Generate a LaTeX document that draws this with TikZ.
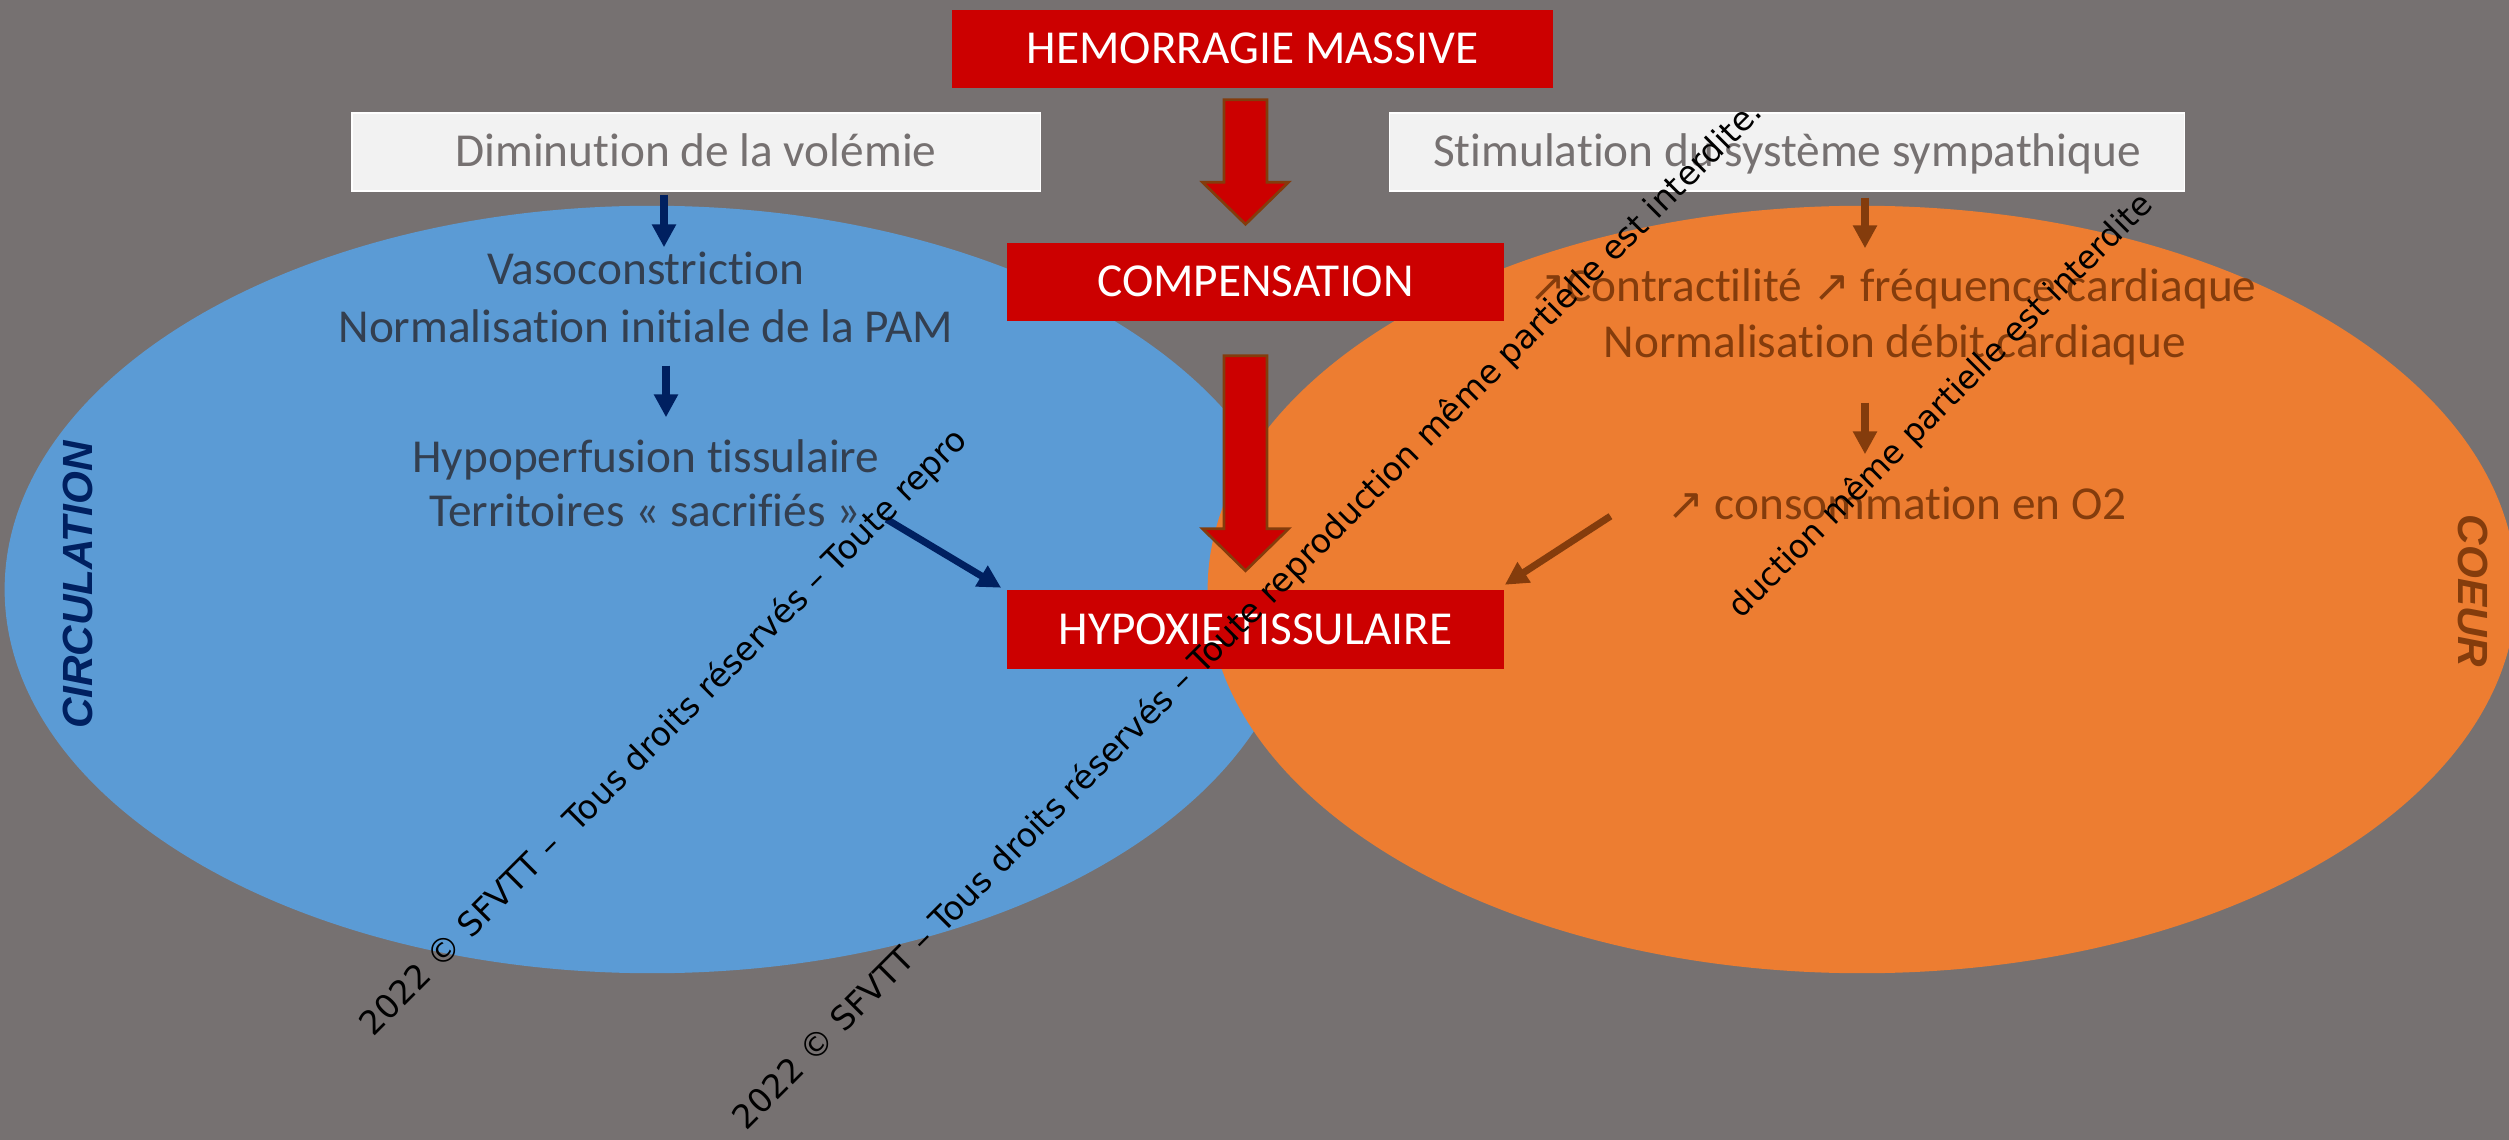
\documentclass[tikz,border=0pt]{standalone}
\usepackage{fontspec}
\setmainfont{Carlito}[Ligatures=NoCommon]
\newfontfamily\wmfont{DejaVu Sans}
\newfontfamily\symfont{DejaVu Sans}
\newfontfamily\lblfont{Liberation Sans}
\usetikzlibrary{calc,arrows.meta}
\definecolor{bgc}{HTML}{767171}
\definecolor{bluee}{HTML}{5B9BD5}
\definecolor{orangee}{HTML}{ED7D31}
\definecolor{hred}{HTML}{CC0000}
\definecolor{brownc}{HTML}{843C0C}
\definecolor{navyc}{HTML}{002060}
\definecolor{slatec}{HTML}{333F50}
\definecolor{lightc}{HTML}{F2F2F2}
\definecolor{grayt}{HTML}{767171}
\newcommand{\mainsize}{\fontsize{13.45pt}{16pt}\selectfont}
\newcommand{\uarr}{{\symfont\fontsize{12.5pt}{14pt}\selectfont ↗}}
\newcommand{\blockarrow}[2]{%
  \draw[redarrst] ($(#1)+(-21.5,0)$) -- ($(#1)+(21.5,0)$) -- ($(#2)+(21.5,-42)$) -- ($(#2)+(43,-42)$) -- (#2) -- ($(#2)+(-43,-42)$) -- ($(#2)+(-21.5,-42)$) -- cycle;}
\begin{document}
\begin{tikzpicture}[x=0.01cm, y=-0.01cm,
  redboxst/.style={fill=hred, text=white, minimum width=4.97cm, minimum height=0.78cm, inner sep=0pt, text height=0.297cm, text depth=0pt, font=\mainsize},
  lboxst/.style={fill=lightc, draw=white, line width=0.4pt, text=grayt, minimum height=0.78cm, inner sep=0pt, text height=0.297cm, text depth=0pt, font=\mainsize},
  bluetxt/.style={anchor=base, text=slatec, font=\mainsize, inner sep=0pt, text height=0.33cm, text depth=0.094cm},
  browntxt/.style={anchor=base, text=brownc, font=\mainsize, inner sep=0pt, text height=0.33cm, text depth=0.094cm},
  redarrst/.style={fill=hred, draw=brownc, line width=0.027cm, line join=miter},
  navyarr/.style={draw=navyc, line width=0.08cm, -{Triangle[length=0.23cm, width=0.23cm]}},
  brownarr/.style={draw=brownc, line width=0.08cm, -{Triangle[length=0.23cm, width=0.23cm]}},
  wm/.style={anchor=base west, rotate=45, inner sep=0pt, text=black, font=\wmfont\fontsize{9.4pt}{11pt}\selectfont},
  sidelbl/.style={anchor=base, inner sep=0pt, font=\lblfont\bfseries\itshape\fontsize{12pt}{14pt}\selectfont}
]
\useasboundingbox (0,0) rectangle (2509,1140);
\clip (0,0) rectangle (2509,1140);
\fill[bgc] (0,0) rectangle (2509,1140);
% ellipses
\fill[bluee] (652,589.5) ellipse [x radius=6.47cm, y radius=3.835cm];
\fill[orangee] (1862,589.5) ellipse [x radius=6.54cm, y radius=3.835cm];
% boxes
\node[redboxst, minimum width=6.01cm] (hemo) at (1252.5,49) {HEMORRAGIE MASSIVE};
\node[redboxst] (comp) at (1255.5,282) {COMPENSATION};
\node[redboxst] (hypo) at (1255.5,629.5) {HYPOXIE TISSULAIRE};
\node[lboxst, minimum width=6.88cm] (dim) at (696,152) {Diminution de la volémie};
\node[lboxst, minimum width=7.94cm] (stim) at (1787,152) {Stimulation du système sympathique};
% blue side texts
\node[bluetxt] (vaso) at (646,285) {Vasoconstriction};
\node[bluetxt] (norm1) at (646,343) {Normalisation initiale de la PAM};
\node[bluetxt] (hypop) at (646,472) {Hypoperfusion tissulaire};
\node[bluetxt] (terr) at (645,527) {Territoires « sacrifiés »};
% brown side texts
\node[browntxt] (contr) at (1893,302) {\uarr Contractilité \uarr{} fréquence cardiaque};
\node[browntxt] (normdeb) at (1895,358) {Normalisation débit cardiaque};
\node[browntxt] (conso) at (1897,520) {\uarr{} consommation en O2};
% side labels
\node[sidelbl, rotate=90, text=navyc] (circ) at (92,585) {CIRCULATION};
\node[sidelbl, rotate=-90, text=brownc] (coeur) at (2458,591) {COEUR};
% red block arrows
\coordinate (r1t) at ($(hemo.south)+(-7,11)$);
\coordinate (r1p) at ($(comp.north)+(-10,-18)$);
\coordinate (r2t) at ($(comp.south)+(-10,34)$);
\coordinate (r2p) at ($(hypo.north)+(-10,-19)$);
\blockarrow{r1t}{r1p}
\blockarrow{r2t}{r2p}
% navy arrows
\draw[navyarr] ($(dim.south)+(-32,3)$) -- ($(vaso.north)+(18,-4)$);
\draw[navyarr] ($(norm1.south)+(20,12.6)$) -- ($(hypop.north)+(20,-21)$);
\draw[navyarr, line width=0.07cm] ($(terr.east)+(25,4)$) -- ($(hypo.north west)+(-5,-2)$);
% brown arrows
\draw[brownarr] ($(stim.south)+(78,6)$) -- ($(contr.north)+(-28,-20)$);
\draw[brownarr] ($(normdeb.south)+(-30,34.6)$) -- ($(conso.north)+(-32,-32)$);
\draw[brownarr, line width=0.07cm] ($(conso.west)+(-56,8)$) -- ($(hypo.north east)+(0,-5)$);
% watermarks
\node[wm] (wm1) at (373,1038) {2022 © SFVTT –\ \ Tous droits réservés – Toute repro};
\node[wm] (wm2) at (746,1132) {2022 © SFVTT – Tous droits réservés – Toute reproduction même partielle est interdite.};
\node[wm, font=\wmfont\fontsize{9.2pt}{11pt}\selectfont] (wm3) at (1741,620) {duction même partielle est interdite};
\end{tikzpicture}
\end{document}
